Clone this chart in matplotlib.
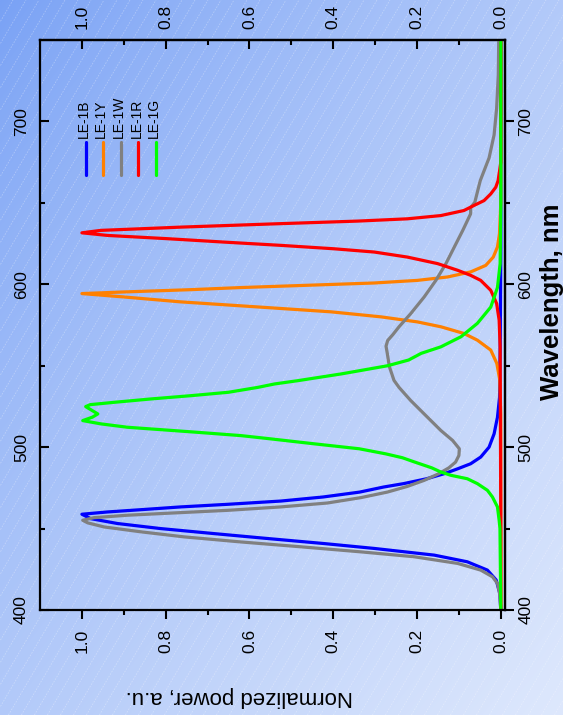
import matplotlib.pyplot as plt
import numpy as np
from matplotlib.ticker import FixedLocator, FormatStrFormatter

plt.rcParams['font.family'] = ['Liberation Sans', 'DejaVu Sans']

# spectra: wavelength (nm) and normalized power
b_wl = [400, 410.2, 418.4, 424.5, 429.6, 433.7, 437.8, 440.8, 443.9, 446.9, 450.0, 453.1, 456.1, 458.8,
        460.2, 461.6, 463.3, 464.9, 466.9, 469.4, 472.4, 475.5, 477.6, 480.6, 483.7, 486.7, 489.8, 493.9,
        500.0, 508.2, 518.4, 530.6, 560, 620, 750]
b_pw = [0, 0.0024, 0.011, 0.032, 0.080, 0.159, 0.302, 0.422, 0.557, 0.684, 0.812, 0.915, 0.979, 1.0,
        0.939, 0.859, 0.764, 0.652, 0.525, 0.424, 0.337, 0.280, 0.232, 0.177, 0.135, 0.103, 0.072, 0.048,
        0.028, 0.016, 0.008, 0.003, 0.0015, 0, 0]

y_wl = [400, 520, 541.2, 551.4, 559.6, 565.7, 569.8, 573.9, 576.9, 580.0, 583.1, 586.1, 589.2, 592.2, 594.3,
        595.3, 596.7, 598.0, 599.4, 600.8, 602.4, 604.5, 607.6, 611.6, 616.7, 622.9, 631.0, 650, 750]
y_pw = [0, 0, 0.0024, 0.0095, 0.024, 0.056, 0.088, 0.143, 0.199, 0.286, 0.406, 0.581, 0.764, 0.899, 1.0,
        0.899, 0.740, 0.620, 0.461, 0.302, 0.199, 0.127, 0.072, 0.036, 0.018, 0.008, 0.0032, 0, 0]

w_wl = [400, 410.2, 416.3, 420.4, 424.5, 428.6, 432.7, 435.7, 438.8, 441.8, 444.9, 448.0, 451.0, 453.5, 455.1,
        456.7, 458.2, 459.6, 461.2, 463.3, 465.7, 469.0, 472.4, 475.9, 479.6, 483.7, 487.3, 490.8, 494.9,
        499.0, 504.1, 510.2, 520.4, 528.6, 536.7, 541, 549.4, 557.6, 562, 565.5, 569, 573.9, 582, 592.2, 602.4,
        612.7, 622.9, 633, 643.3, 647, 650.4, 657.6, 663.7, 677.6, 691.8, 708, 728.6, 749]
w_pw = [0, 0.003, 0.008, 0.020, 0.048, 0.103, 0.207, 0.334, 0.477, 0.621, 0.756, 0.859, 0.947, 0.986, 0.998,
        0.971, 0.891, 0.780, 0.652, 0.525, 0.414, 0.334, 0.271, 0.223, 0.183, 0.148, 0.124, 0.108, 0.100,
        0.099, 0.115, 0.143, 0.183, 0.215, 0.243, 0.255, 0.266, 0.271, 0.274, 0.27, 0.258, 0.243, 0.215, 0.183,
        0.155, 0.131, 0.111, 0.091, 0.072, 0.072, 0.062, 0.055, 0.049, 0.028, 0.016, 0.010, 0.006, 0.005]

r_wl = [400, 450, 561.6, 578.0, 588.2, 596.3, 602.4, 605.5, 608.6, 612.7, 616.7, 619.8, 621.8, 623.9, 625.9,
        628.0, 630.0, 631.6, 633.1, 634.1, 635.1, 637.1, 638.8, 640.2, 642.2, 645.3, 648.4, 651.4, 655.5,
        659.6, 663.7, 675, 750]
r_pw = [0, 0, 0.0016, 0.004, 0.010, 0.024, 0.048, 0.072, 0.103, 0.151, 0.223, 0.302, 0.398, 0.525, 0.660,
        0.796, 0.939, 1.0, 0.955, 0.859, 0.764, 0.541, 0.342, 0.223, 0.143, 0.088, 0.064, 0.040, 0.024,
        0.012, 0.0064, 0, 0]

g_wl = [400, 450, 455.1, 463.3, 469.4, 473.5, 477.6, 480.6, 482.7, 484.7, 487.3, 490.8, 493.5, 495.9, 499.0,
        502.0, 505.1, 507.1, 509.2, 510.6, 512.2, 514.3, 516.3, 518.4, 520.4, 522.4, 524.9, 526.1, 527.6,
        529.6, 531.6, 533.7, 536.7, 538.8, 540.8, 545, 550, 553.5, 557.6, 561.6, 567.8, 576, 586, 598, 612.7,
        650, 750]
g_pw = [0, 0.002, 0.004, 0.008, 0.020, 0.032, 0.056, 0.080, 0.119, 0.143, 0.165, 0.205, 0.235, 0.275, 0.338,
        0.444, 0.550, 0.621, 0.729, 0.804, 0.891, 0.955, 0.998, 0.975, 0.962, 0.975, 0.991, 0.98, 0.92,
        0.835, 0.74, 0.65, 0.58, 0.54, 0.485, 0.38, 0.27, 0.22, 0.19, 0.143, 0.095, 0.056, 0.024, 0.008, 0.0016,
        0, 0]

names = ['LE-1B', 'LE-1Y', 'LE-1W', 'LE-1R', 'LE-1G']
colors = ['#0000FF', '#FF8000', '#808080', '#FF0000', '#00FF00']
series = [(b_wl, b_pw), (y_wl, y_pw), (w_wl, w_pw), (r_wl, r_pw), (g_wl, g_pw)]

pw_major = [0.0, 0.2, 0.4, 0.6, 0.8, 1.0]
pw_minor = [0.1, 0.3, 0.5, 0.7, 0.9]
wl_major = [400, 500, 600, 700]
wl_minor = [450, 550, 650]

W, H = 563, 715
fig = plt.figure(figsize=(W / 100, H / 100), dpi=100)

# gradient background with faint diagonal lines
bg = fig.add_axes([0, 0, 1, 1], zorder=-10)
gx, gy = np.meshgrid(np.linspace(0, 1, W), np.linspace(0, 1, H))
t = np.clip((gx + gy) / 2, 0, 1) ** 0.8
c0 = np.array([0.47, 0.63, 0.96])
c1 = np.array([0.87, 0.91, 0.99])
img = c0[None, None, :] * (1 - t[..., None]) + c1[None, None, :] * t[..., None]
bg.imshow(img, extent=(0, W, H, 0), aspect='auto')
slope = 1.7
for x0 in np.arange(-H / slope, W + 13, 13):
    bg.plot([x0, x0 + H / slope], [H, 0], color='white', lw=0.6, alpha=0.3, ls=(0, (2, 1.5)))
bg.set_xlim(0, W)
bg.set_ylim(H, 0)
bg.axis('off')

# rotated chart: power runs right-to-left, wavelength bottom-to-top
ax = fig.add_axes([40 / W, (H - 610) / H, 465 / W, 570 / H])
ax.patch.set_alpha(0)
for (wl, pw), c in zip(series, colors):
    ax.plot(pw, wl, color=c, lw=2.3, solid_capstyle='round', solid_joinstyle='round')

ax.set_xlim(1.1, -0.01)
ax.set_ylim(400, 750)
for s in ax.spines.values():
    s.set_linewidth(1.6)

fmt = FormatStrFormatter('%.1f')
ax.xaxis.set_major_locator(FixedLocator(pw_major))
ax.xaxis.set_minor_locator(FixedLocator(pw_minor))
ax.xaxis.set_major_formatter(fmt)
ax.yaxis.set_major_locator(FixedLocator(wl_major))
ax.yaxis.set_minor_locator(FixedLocator(wl_minor))
ax.tick_params(axis='x', which='both', direction='out', labelrotation=90, labelsize=12.5, pad=7, width=1.5)
ax.tick_params(axis='y', which='both', direction='in', labelrotation=90, labelsize=12.5, pad=8, width=1.5)
ax.tick_params(which='major', length=6.5)
ax.tick_params(which='minor', length=3.6)

secx = ax.secondary_xaxis('top')
secx.xaxis.set_major_locator(FixedLocator(pw_major))
secx.xaxis.set_minor_locator(FixedLocator(pw_minor))
secx.xaxis.set_major_formatter(fmt)
secx.tick_params(which='both', direction='in', labelrotation=90, labelsize=12.5, pad=8, width=1.5)
secx.tick_params(which='major', length=6.5)
secx.tick_params(which='minor', length=3.6)
secx.spines['top'].set_linewidth(1.6)

secy = ax.secondary_yaxis('right')
secy.yaxis.set_major_locator(FixedLocator(wl_major))
secy.yaxis.set_minor_locator(FixedLocator(wl_minor))
secy.tick_params(which='both', direction='out', labelrotation=90, labelsize=12.5, pad=3, width=1.5)
secy.tick_params(which='major', length=6.5)
secy.tick_params(which='minor', length=3.6)
secy.spines['right'].set_linewidth(1.6)

plt.setp(ax.get_yticklabels(), va='center')
plt.setp(secy.get_yticklabels(), va='center')

fig.text(239 / W, 1 - 697 / H, 'Normalized power, a.u.', rotation=180, fontsize=16,
         ha='center', va='center')
fig.text(552 / W, 1 - 302 / H, 'Wavelength, nm', rotation=90, fontsize=18.5, fontweight='bold',
         ha='center', va='center')

# legend drawn by hand, rotated like the rest of the chart
for i, (n, c) in enumerate(zip(names, colors)):
    xa = 0.098 + 0.0378 * i
    ax.plot([xa, xa], [0.763, 0.821], color=c, lw=2.3, transform=ax.transAxes, solid_capstyle='round')
    ax.text(xa - 0.004, 0.828, n, rotation=90, fontsize=10, ha='center', va='bottom',
            transform=ax.transAxes)

fig.savefig('out.png', dpi=100)
